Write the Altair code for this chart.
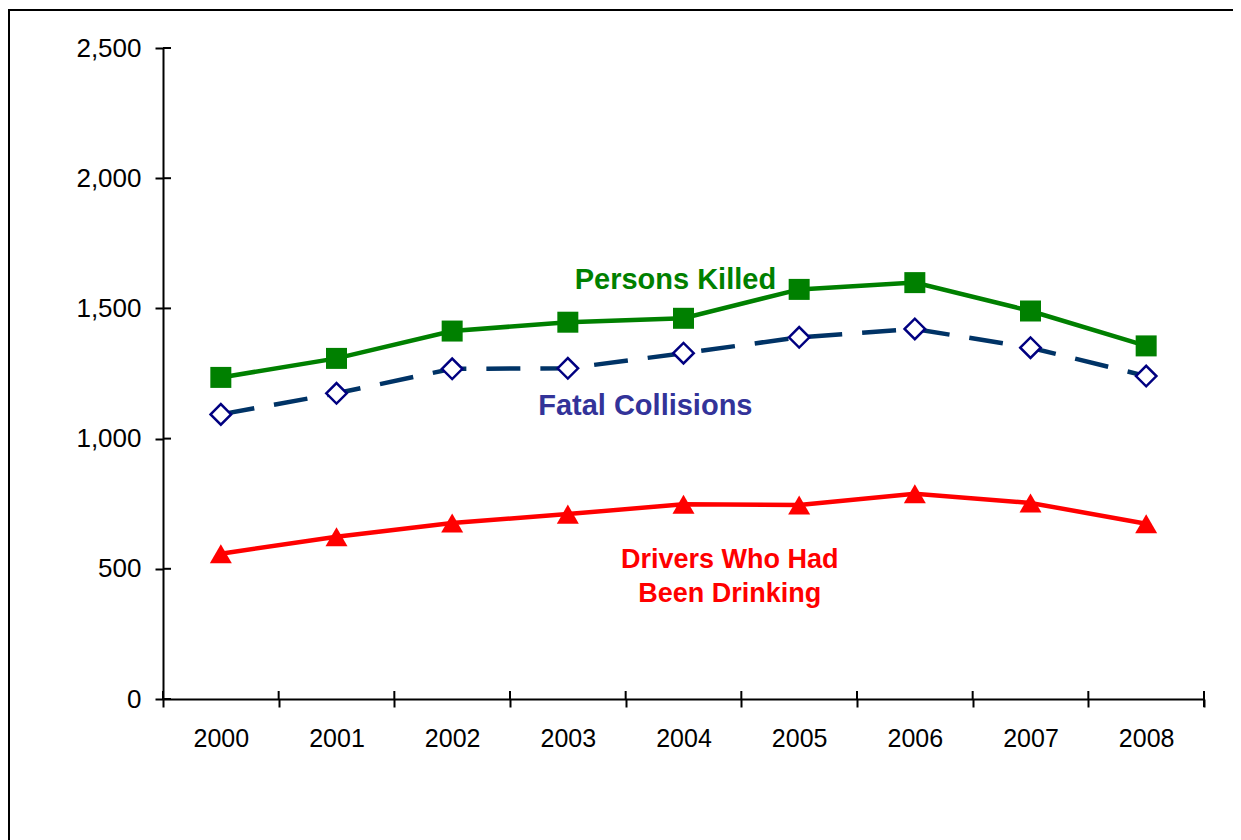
import altair as alt
import pandas as pd

years = [2000, 2001, 2002, 2003, 2004, 2005, 2006, 2007, 2008]
persons_killed = [1235, 1308, 1413, 1447, 1462, 1573, 1599, 1490, 1356]
fatal_collisions = [1093, 1174, 1268, 1270, 1328, 1389, 1421, 1349, 1240]
drinking_drivers = [558, 623, 676, 710, 748, 745, 788, 753, 673]
y_ticks = [0, 500, 1000, 1500, 2000, 2500]
x_bounds = [1999.5, 2000.5, 2001.5, 2002.5, 2003.5, 2004.5, 2005.5, 2006.5, 2007.5, 2008.5]

W, H = 1041, 651
PAD = {"left": 155, "top": 40, "right": 29, "bottom": 141}
FONT = "Liberation Sans"

xs = alt.Scale(domain=[1999.5, 2008.5], nice=False, zero=False)
ys = alt.Scale(domain=[0, 2500], nice=False, zero=True)

x_axis = alt.Axis(
    values=x_bounds, title=None, grid=False,
    labelExpr="datum.value > 2008 ? '' : format(datum.value + 0.5, 'd')",
    labelOffset=W / 18, labelFlush=False, labelOverlap=False,
    labelFont=FONT, labelFontSize=25, labelColor="black", labelPadding=19,
    tickSize=8, tickWidth=2, tickColor="black",
    domainWidth=2, domainColor="black",
)
y_axis = alt.Axis(
    values=y_ticks, title=None, grid=False, format=",d",
    labelFont=FONT, labelFontSize=26, labelColor="black", labelPadding=14,
    tickSize=8, tickWidth=2, tickColor="black",
    domainWidth=2, domainColor="black",
)


def X(field=None, datum=None):
    if datum is not None:
        return alt.X(datum=datum, type="quantitative", scale=xs, axis=x_axis)
    return alt.X(field, type="quantitative", scale=xs, axis=x_axis)


def Y(field=None, datum=None):
    if datum is not None:
        return alt.Y(datum=datum, type="quantitative", scale=ys, axis=y_axis)
    return alt.Y(field, type="quantitative", scale=ys, axis=y_axis)


df_p = pd.DataFrame({"year": years, "v": persons_killed})
df_f = pd.DataFrame({"year": years, "v": fatal_collisions})
df_d = pd.DataFrame({"year": years, "v": drinking_drivers})
df_yt = pd.DataFrame({"v": y_ticks})
df_xt = pd.DataFrame({"year": x_bounds})
df_one = pd.DataFrame({"a": [0]})

# frame around the figure: left and top edges, drawn as thin filled bars
frame_top = alt.Chart(df_one).mark_rect(color="black").encode(
    x=alt.value(-PAD["left"]), x2=alt.value(W + PAD["right"]),
    y=alt.value(-PAD["top"] + 1), y2=alt.value(-PAD["top"] + 3)
)
frame_left = alt.Chart(df_one).mark_rect(color="black").encode(
    x=alt.value(-PAD["left"]), x2=alt.value(-PAD["left"] + 2),
    y=alt.value(-PAD["top"] + 1), y2=alt.value(H + PAD["bottom"])
)

y_inner = alt.Chart(df_yt).mark_rule(color="black", strokeWidth=2).encode(
    y=Y("v"), x=alt.value(0), x2=alt.value(8)
)
x_inner = alt.Chart(df_xt).mark_rule(color="black", strokeWidth=2).encode(
    x=X("year"), y=alt.value(H), y2=alt.value(H - 8)
)
x_end = alt.Chart(df_one).mark_rule(color="black", strokeWidth=2).encode(
    x=alt.value(W), y=alt.value(H - 8), y2=alt.value(H + 8)
)

line_f = alt.Chart(df_f).mark_line(
    color="#003366", strokeWidth=4.5, strokeDash=[34, 20]
).encode(x=X("year"), y=Y("v"))
pts_f = alt.Chart(df_f).mark_point(
    shape="diamond", size=420, filled=True, fill="white", stroke="#000080",
    strokeWidth=2.5, opacity=1
).encode(x=X("year"), y=Y("v"))

line_p = alt.Chart(df_p).mark_line(color="#008000", strokeWidth=4.5).encode(
    x=X("year"), y=Y("v")
)
pts_p = alt.Chart(df_p).mark_point(
    shape="square", size=441, filled=True, color="#008000", opacity=1
).encode(x=X("year"), y=Y("v"))

line_d = alt.Chart(df_d).mark_line(color="#ff0000", strokeWidth=4.5).encode(
    x=X("year"), y=Y("v")
)
pts_d = alt.Chart(df_d).mark_point(
    shape="triangle-up", size=484, filled=True, color="#ff0000", opacity=1
).encode(x=X("year"), y=Y("v"))

lab_p = alt.Chart(df_one).mark_text(
    text="Persons Killed", font=FONT, fontWeight="bold", fontSize=29,
    color="#008000", align="center", baseline="alphabetic"
).encode(x=X(datum=2003.93), y=Y(datum=1574))
lab_f = alt.Chart(df_one).mark_text(
    text="Fatal Collisions", font=FONT, fontWeight="bold", fontSize=29,
    color="#333399", align="center", baseline="alphabetic"
).encode(x=X(datum=2003.67), y=Y(datum=1091))
lab_d = alt.Chart(df_one).mark_text(
    text=["Drivers Who Had", "Been Drinking"], font=FONT, fontWeight="bold",
    fontSize=27, lineHeight=34, color="#ff0000", align="center",
    baseline="alphabetic"
).encode(x=X(datum=2004.40), y=Y(datum=503))

chart = alt.layer(
    frame_top, frame_left, line_f, line_p, line_d, pts_f, pts_p, pts_d,
    y_inner, x_inner, x_end, lab_p, lab_f, lab_d
).properties(
    width=W, height=H,
    autosize=alt.AutoSizeParams(type="none"),
    padding=PAD,
    background="white",
).configure_view(strokeWidth=0)

chart.save("out.html", embed_options={"renderer": "svg", "actions": False})
